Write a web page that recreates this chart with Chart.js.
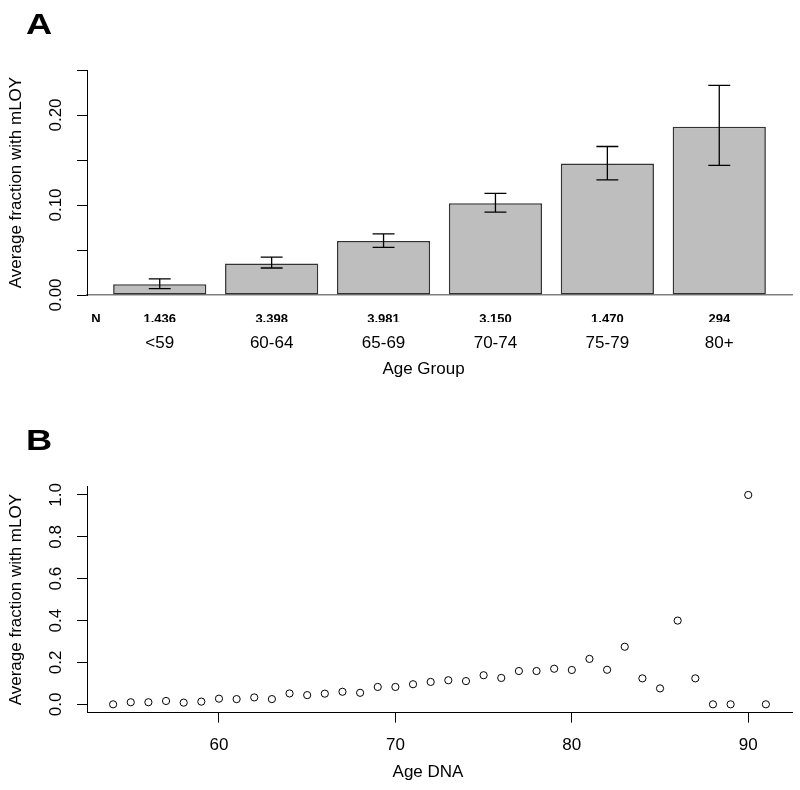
<!DOCTYPE html>
<html lang="en">
<head>
    <meta charset="UTF-8">
    <title>mLOY by age</title>
    <script src="https://cdn.jsdelivr.net/npm/chart.js"></script>
    <style>
        body { margin: 0; background: #fff; }
        #wrap { position: relative; width: 800px; height: 790px; }
        canvas { position: absolute; left: 0; }
        #chartA { top: 0; }
        #chartB { top: 395px; }
    </style>
</head>
<body>
    <div id="wrap">
        <canvas id="chartA" width="800" height="395"></canvas>
        <canvas id="chartB" width="800" height="395"></canvas>
    </div>

    <script>
        // Panel A: age groups
        const ageGroups = ['<59', '60-64', '65-69', '70-74', '75-79', '80+'];
        const groupN = ['1,436', '3,398', '3,981', '3,150', '1,470', '294'];
        const meanFrac = [0.012, 0.035, 0.060, 0.102, 0.146, 0.187];
        const ciLow = [0.007, 0.030, 0.053, 0.092, 0.128, 0.144];
        const ciHigh = [0.018, 0.042, 0.068, 0.113, 0.165, 0.233];
        const yTicksA = [0, 0.05, 0.10, 0.15, 0.20, 0.25];
        const yLabelsA = [0, 0.10, 0.20];

        // Panel B: single ages
        const ageDNA = [54, 55, 56, 57, 58, 59, 60, 61, 62, 63, 64, 65, 66, 67, 68, 69, 70, 71, 72,
                        73, 74, 75, 76, 77, 78, 79, 80, 81, 82, 83, 84, 85, 86, 87, 88, 89, 90, 91];
        const fracDNA = [0, 0.010, 0.010, 0.016, 0.008, 0.013, 0.027, 0.025, 0.033, 0.025, 0.052, 0.044,
                         0.051, 0.060, 0.055, 0.083, 0.083, 0.096, 0.107, 0.115, 0.111, 0.139, 0.126,
                         0.159, 0.159, 0.170, 0.164, 0.217, 0.165, 0.275, 0.124, 0.076, 0.400, 0.124,
                         0, 0, 1.0, 0];
        const xTicksB = [60, 70, 80, 90];
        const yTicksB = [0, 0.2, 0.4, 0.6, 0.8, 1.0];

        const FONT = '"Liberation Sans", Arial, Helvetica, sans-serif';
        const capHalf = 0.098;   // half width of error bar caps, in bar units
        const nLabelPos = -0.57; // where the "N" row header sits

        // panel letter and x axis title
        const panelText = {
            id: 'panelText',
            afterDraw(chart, args, opts) {
                const ctx = chart.ctx;
                const area = chart.chartArea;
                ctx.save();
                ctx.fillStyle = '#000';
                ctx.font = 'bold 29px ' + FONT;
                ctx.textAlign = 'left';
                ctx.textBaseline = 'alphabetic';
                ctx.translate(opts.letterX, opts.letterY);
                ctx.scale(1.25, 1);
                ctx.fillText(opts.letter, 0, 0);
                ctx.restore();

                ctx.save();
                ctx.fillStyle = '#000';
                ctx.font = '17px ' + FONT;
                ctx.textAlign = 'center';
                ctx.textBaseline = 'middle';
                ctx.fillText(opts.xTitle, (area.left + area.right) / 2 + opts.xShift, opts.xTitleY);
                ctx.restore();
            }
        };

        // error bars as line segments (nulls break the line)
        const errPts = [];
        meanFrac.forEach((v, i) => {
            errPts.push({ x: i - capHalf, y: ciHigh[i] }, { x: i + capHalf, y: ciHigh[i] }, { x: i, y: null });
            errPts.push({ x: i, y: ciHigh[i] }, { x: i, y: ciLow[i] }, { x: i, y: null });
            errPts.push({ x: i - capHalf, y: ciLow[i] }, { x: i + capHalf, y: ciLow[i] }, { x: i, y: null });
        });

        const yTitle = {
            display: true,
            text: 'Average fraction with mLOY',
            color: '#000',
            font: { family: FONT, size: 17 },
            padding: { top: 6, bottom: 0 }
        };

        new Chart(document.getElementById('chartA'), {
            type: 'bar',
            data: {
                datasets: [
                    {
                        type: 'bar',
                        xAxisID: 'x2',
                        order: 2,
                        data: meanFrac.map((v, i) => ({ x: i, y: v })),
                        backgroundColor: '#bebebe',
                        borderColor: '#333',
                        borderWidth: 1.6,
                        borderSkipped: false,
                        barPercentage: 0.833,
                        categoryPercentage: 1
                    },
                    {
                        type: 'line',
                        xAxisID: 'x2',
                        order: 1,
                        data: errPts,
                        borderColor: '#000',
                        borderWidth: 1.3,
                        pointRadius: 0,
                        spanGaps: false
                    }
                ]
            },
            options: {
                responsive: false,
                animation: false,
                layout: { padding: { top: 70, right: 8, left: 0, bottom: 13 } },
                plugins: {
                    legend: { display: false },
                    tooltip: { enabled: false },
                    panelText: { letter: 'A', letterX: 26, letterY: 34, xTitle: 'Age Group', xShift: -16, xTitleY: 369 }
                },
                scales: {
                    x: {
                        type: 'linear',
                        position: 'bottom',
                        weight: 0,
                        offset: false,
                        min: -0.65,
                        max: 5.65,
                        afterBuildTicks: s => { s.ticks = [{ value: nLabelPos }].concat(ageGroups.map((g, i) => ({ value: i }))); },
                        afterFit: s => { s.height = 27; },
                        ticks: {
                            autoSkip: false,
                            maxRotation: 0,
                            padding: 9,
                            color: '#000',
                            font: { family: FONT, size: 13, weight: 'bold' },
                            callback: (v, i) => i === 0 ? 'N' : groupN[i - 1]
                        },
                        grid: { display: false },
                        border: { display: true, color: '#808080', width: 1.5 }
                    },
                    x2: {
                        type: 'linear',
                        position: 'bottom',
                        weight: 1,
                        offset: false,
                        min: -0.65,
                        max: 5.65,
                        afterBuildTicks: s => { s.ticks = ageGroups.map((g, i) => ({ value: i })); },
                        afterFit: s => { s.height = 60; },
                        ticks: {
                            autoSkip: false,
                            maxRotation: 0,
                            padding: 3,
                            color: '#000',
                            font: { family: FONT, size: 17 },
                            callback: (v, i) => ageGroups[i]
                        },
                        grid: { display: false, offset: false },
                        border: { display: false }
                    },
                    y: {
                        min: 0,
                        max: 0.25,
                        afterBuildTicks: s => { s.ticks = yTicksA.map(v => ({ value: v })); },
                        afterFit: s => { s.width = 87; },
                        ticks: {
                            autoSkip: false,
                            minRotation: 90,
                            maxRotation: 90,
                            crossAlign: 'center',
                            padding: 4.5,
                            color: '#000',
                            font: { family: FONT, size: 17 },
                            callback: v => yLabelsA.some(t => Math.abs(t - v) < 1e-9) ? v.toFixed(2) : ''
                        },
                        grid: { display: true, drawOnChartArea: false, drawTicks: true, tickLength: 10, color: '#000' },
                        border: { display: true, color: '#000', width: 1 },
                        title: yTitle
                    }
                }
            },
            plugins: [panelText]
        });

        new Chart(document.getElementById('chartB'), {
            type: 'scatter',
            data: {
                datasets: [{
                    data: ageDNA.map((a, i) => ({ x: a, y: fracDNA[i] })),
                    pointStyle: 'circle',
                    pointRadius: 3.6,
                    pointBorderWidth: 1,
                    pointBorderColor: '#000',
                    pointBackgroundColor: 'rgba(255,255,255,0)'
                }]
            },
            options: {
                responsive: false,
                animation: false,
                layout: { padding: { top: 91.6, right: 8, left: 0, bottom: 17.3 } },
                plugins: {
                    legend: { display: false },
                    tooltip: { enabled: false },
                    panelText: { letter: 'B', letterX: 26, letterY: 55, xTitle: 'Age DNA', xShift: -11.5, xTitleY: 377.7 }
                },
                scales: {
                    x: {
                        type: 'linear',
                        min: 52.52,
                        max: 92.48,
                        afterBuildTicks: s => { s.ticks = xTicksB.map(v => ({ value: v })); },
                        afterFit: s => { s.height = 60; },
                        ticks: {
                            autoSkip: false,
                            maxRotation: 0,
                            padding: 12,
                            color: '#000',
                            font: { family: FONT, size: 17 }
                        },
                        grid: { display: true, drawOnChartArea: false, drawTicks: true, tickLength: 10, color: '#000' },
                        border: { display: true, color: '#000', width: 1 }
                    },
                    y: {
                        min: -0.04,
                        max: 1.04,
                        afterBuildTicks: s => { s.ticks = yTicksB.map(v => ({ value: v })); },
                        afterFit: s => { s.width = 87; },
                        ticks: {
                            autoSkip: false,
                            minRotation: 90,
                            maxRotation: 90,
                            crossAlign: 'center',
                            padding: 9,
                            color: '#000',
                            font: { family: FONT, size: 17 },
                            callback: v => v.toFixed(1)
                        },
                        grid: { display: true, drawOnChartArea: false, drawTicks: true, tickLength: 10, color: '#000' },
                        border: { display: true, color: '#000', width: 1 },
                        title: yTitle
                    }
                }
            },
            plugins: [panelText]
        });
    </script>
</body>
</html>
